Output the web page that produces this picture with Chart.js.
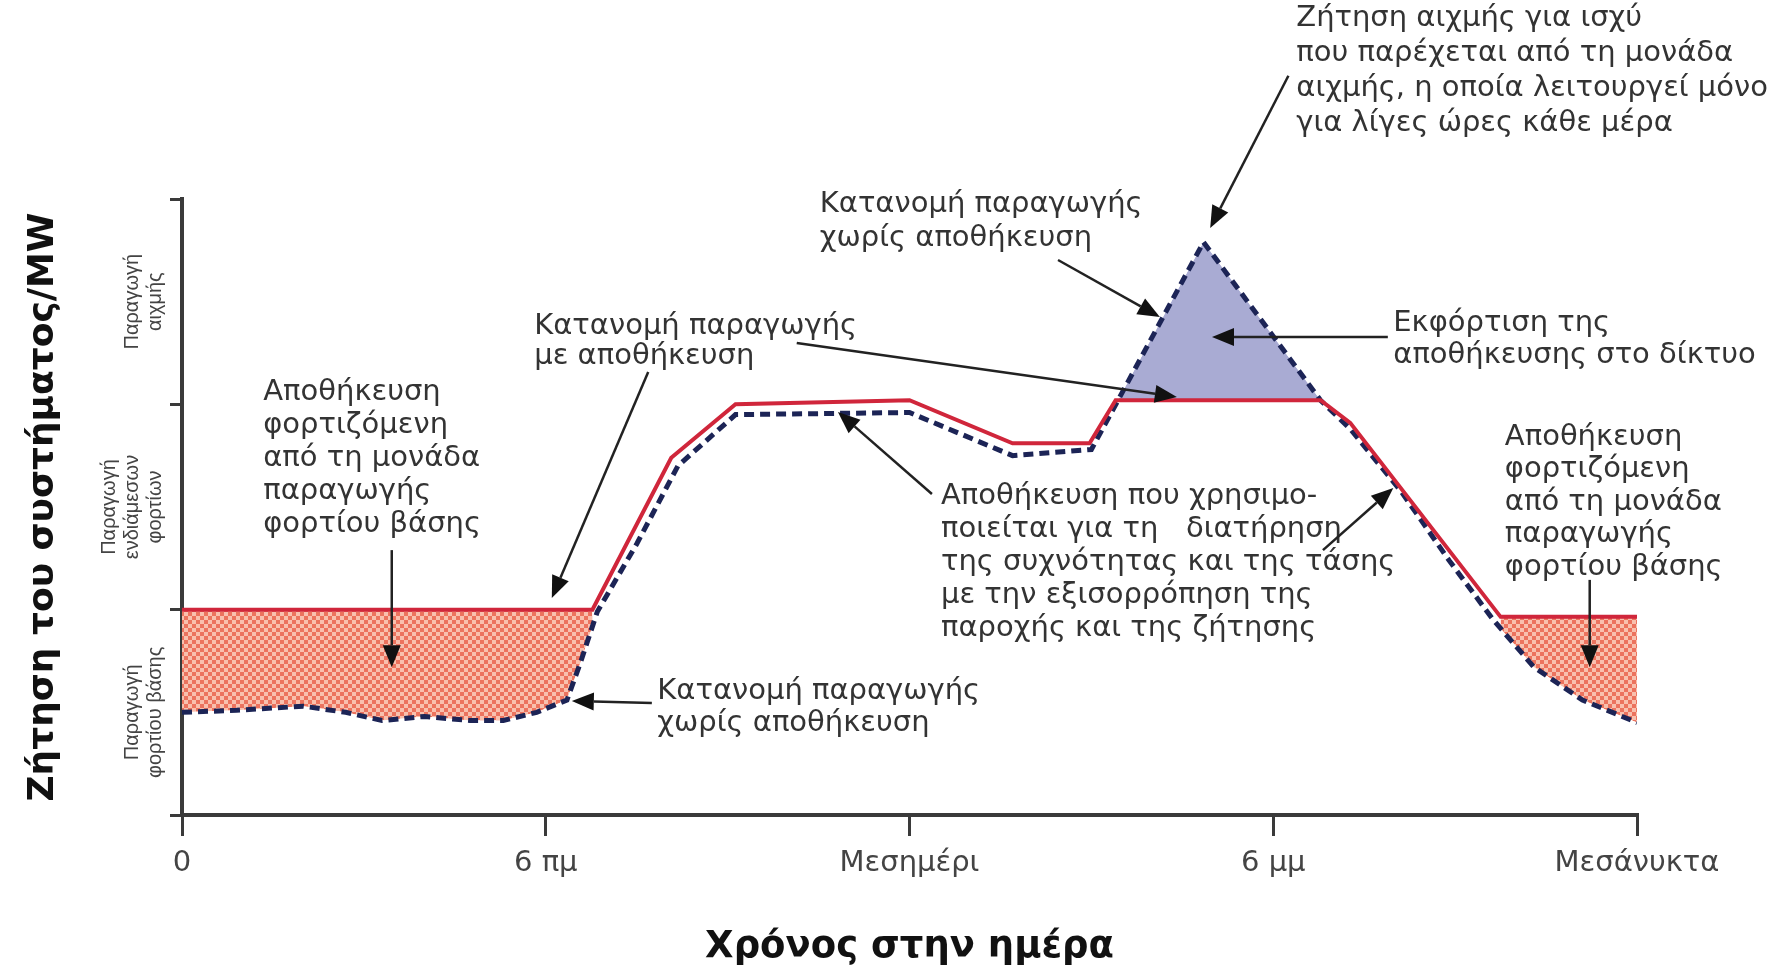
<!DOCTYPE html>
<html>
<head>
<meta charset="utf-8">
<script src="https://cdn.jsdelivr.net/npm/chart.js@4.4.1/dist/chart.umd.min.js"></script>
<style>
  html, body { margin: 0; padding: 0; background: #fff; }
</style>
</head>
<body>
<canvas id="demandChart" width="1783" height="970"></canvas>
<script>
// hour of day (0 = midnight) and system demand, in units of one production band
const hoursWithStorage  = [0, 6.77, 8.07, 9.13, 12.0, 13.7, 14.97, 15.4, 18.78, 19.27, 21.75, 24];
const demandWithStorage = [1.0, 1.0, 1.74, 2.0, 2.02, 1.81, 1.81, 2.02, 2.02, 1.91, 0.965, 0.965];

const hoursNoStorage  = [0, 0.9, 2.0, 2.7, 3.3, 4.0, 4.75, 5.3, 5.85, 6.35, 6.57, 6.85, 7.5, 8.18, 9.13, 12.0, 13.7, 15.0, 16.85, 18.78, 19.27, 20.1, 20.9, 21.63, 22.3, 23.1, 24];
const demandNoStorage = [0.50, 0.51, 0.53, 0.50, 0.46, 0.48, 0.46, 0.46, 0.50, 0.56, 0.74, 0.99, 1.32, 1.70, 1.95, 1.96, 1.75, 1.78, 2.79, 2.02, 1.88, 1.58, 1.24, 0.95, 0.72, 0.56, 0.45];

// hours where storage is charged (base load) / discharged (peak)
const chargeWindows    = [[0, 6.77], [21.75, 24]];
const dischargeWindows = [[15.4, 18.78]];

const xTickLabels = { 0: '0', 6: '6 πμ', 12: 'Μεσημέρι', 18: '6 μμ', 24: 'Μεσάνυκτα' };
const bandLabels = [
    ['Παραγωγή', 'φορτίου βάσης'],
    ['Παραγωγή', 'ενδιάμεσων', 'φορτίων'],
    ['Παραγωγή', 'αιχμής']
];

function toPoints(hours, values) {
    return hours.map((h, i) => ({ x: h, y: values[i] }));
}

function windowed(windows) {
    return hoursWithStorage.map((h, i) => ({
        x: h,
        y: windows.some(([a, b]) => h >= a && h <= b) ? demandWithStorage[i] : null
    }));
}

function makeHatch() {
    const c = document.createElement('canvas');
    c.width = 8; c.height = 8;
    const g = c.getContext('2d');
    g.fillStyle = '#f9c0ae';
    g.fillRect(0, 0, 8, 8);
    g.fillStyle = '#ec735e';
    g.fillRect(0, 0, 4, 4);
    g.fillRect(4, 4, 4, 4);
    return g.createPattern(c, 'repeat');
}

// text blocks and arrows, anchored in data units (hour, demand)
const notes = [
    { h: 18.38, v: 3.877, lh: 35, lines: ['Ζήτηση αιχμής για ισχύ', 'που παρέχεται από τη μονάδα', 'αιχμής, η οποία λειτουργεί μόνο', 'για λίγες ώρες κάθε μέρα'] },
    { h: 10.52, v: 2.971, lh: 34, lines: ['Κατανομή παραγωγής', 'χωρίς αποθήκευση'] },
    { h: 5.81, v: 2.377, lh: 30, lines: ['Κατανομή παραγωγής', 'με αποθήκευση'] },
    { h: 1.34, v: 2.06, lh: 33, lines: ['Αποθήκευση', 'φορτιζόμενη', 'από τη μονάδα', 'παραγωγής', 'φορτίου βάσης'] },
    { h: 7.84, v: 0.604, lh: 32, lines: ['Κατανομή παραγωγής', 'χωρίς αποθήκευση'] },
    { h: 12.52, v: 1.549, lh: 33, lines: ['Αποθήκευση που χρησιμο-', 'ποιείται για τη   διατήρηση', 'της συχνότητας και της τάσης', 'με την εξισορρόπηση της', 'παροχής και της ζήτησης'] },
    { h: 19.98, v: 2.396, lh: 32, lines: ['Εκφόρτιση της', 'αποθήκευσης στο δίκτυο'] },
    { h: 21.82, v: 1.841, lh: 32.5, lines: ['Αποθήκευση', 'φορτιζόμενη', 'από τη μονάδα', 'παραγωγής', 'φορτίου βάσης'] }
];
const arrows = [
    [18.25, 3.60, 16.96, 2.859],
    [14.45, 2.703, 16.13, 2.425],
    [10.14, 2.299, 16.41, 2.036],
    [7.69, 2.157, 6.10, 1.057],
    [3.46, 1.29, 3.46, 0.72],
    [7.75, 0.545, 6.43, 0.555],
    [12.37, 1.563, 10.82, 1.963],
    [18.82, 1.29, 19.98, 1.593],
    [19.89, 2.328, 16.99, 2.328],
    [23.22, 1.145, 23.22, 0.72]
];

const notesPlugin = {
    id: 'notes',
    afterDraw(chart) {
        const { ctx, chartArea, scales: { x, y } } = chart;
        const px = h => x.getPixelForValue(h);
        const py = v => y.getPixelForValue(v);
        ctx.save();

        // rotated band names next to the y axis
        ctx.fillStyle = '#444';
        ctx.font = '20px "Liberation Sans"';
        ctx.textAlign = 'center';
        ctx.textBaseline = 'middle';
        bandLabels.forEach((lines, i) => {
            const cy = py(i + 0.5);
            lines.forEach((t, j) => {
                const cx = chartArea.left - 27 - (lines.length - 1 - j) * 23;
                ctx.save();
                ctx.translate(cx, cy);
                ctx.rotate(-Math.PI / 2);
                ctx.fillText(t, 0, 0);
                ctx.restore();
            });
        });

        // annotation text
        ctx.fillStyle = '#333';
        ctx.font = '29px "DejaVu Sans"';
        ctx.textAlign = 'left';
        notes.forEach(n => {
            n.lines.forEach((t, j) => ctx.fillText(t, px(n.h), py(n.v) + j * n.lh));
        });

        // arrows
        ctx.strokeStyle = '#222';
        ctx.fillStyle = '#111';
        ctx.lineWidth = 2.5;
        arrows.forEach(([h1, v1, h2, v2]) => {
            const x1 = px(h1), y1 = py(v1), x2 = px(h2), y2 = py(v2);
            const a = Math.atan2(y2 - y1, x2 - x1);
            const len = 22, half = 9;
            const bx = x2 - len * Math.cos(a), by = y2 - len * Math.sin(a);
            ctx.beginPath();
            ctx.moveTo(x1, y1);
            ctx.lineTo(bx, by);
            ctx.stroke();
            ctx.beginPath();
            ctx.moveTo(x2, y2);
            ctx.lineTo(bx + half * Math.sin(a), by - half * Math.cos(a));
            ctx.lineTo(bx - half * Math.sin(a), by + half * Math.cos(a));
            ctx.closePath();
            ctx.fill();
        });
        ctx.restore();
    }
};

Chart.defaults.font.family = '"DejaVu Sans"';

const axisColor = '#3a3a3a';

new Chart(document.getElementById('demandChart'), {
    type: 'line',
    data: {
        datasets: [
            {
                label: 'Κατανομή παραγωγής με αποθήκευση',
                data: toPoints(hoursWithStorage, demandWithStorage),
                borderColor: '#d0263b',
                borderWidth: 4,
                pointRadius: 0,
                fill: false
            },
            {
                label: 'Κατανομή παραγωγής χωρίς αποθήκευση',
                data: toPoints(hoursNoStorage, demandNoStorage),
                borderColor: '#1c2456',
                borderWidth: 5,
                borderDash: [10, 6],
                pointRadius: 0,
                fill: false
            },
            {
                label: 'charge',
                data: windowed(chargeWindows),
                borderWidth: 0,
                pointRadius: 0,
                fill: { target: 1, above: makeHatch(), below: 'rgba(0,0,0,0)' }
            },
            {
                label: 'discharge',
                data: windowed(dischargeWindows),
                borderWidth: 0,
                pointRadius: 0,
                fill: { target: 1, above: 'rgba(0,0,0,0)', below: '#a9abd3' }
            }
        ]
    },
    options: {
        responsive: false,
        animation: false,
        layout: { padding: { top: 199, right: 146, left: 0, bottom: 0 } },
        plugins: {
            legend: { display: false },
            tooltip: { enabled: false }
        },
        scales: {
            x: {
                type: 'linear',
                min: 0,
                max: 24,
                afterFit: s => { s.height = 155; },
                ticks: {
                    stepSize: 6,
                    autoSkip: false,
                    maxRotation: 0,
                    padding: 10,
                    color: '#444',
                    font: { size: 29 },
                    callback: v => xTickLabels[v] ?? ''
                },
                grid: { drawOnChartArea: false, color: axisColor, lineWidth: 3, tickLength: 21 },
                border: { color: axisColor, width: 4 },
                title: {
                    display: true,
                    text: 'Χρόνος στην ημέρα',
                    color: '#111',
                    font: { size: 37, weight: 'bold' },
                    padding: { top: 0, bottom: 0 }
                }
            },
            y: {
                min: 0,
                max: 3,
                afterFit: s => { s.width = 182; },
                ticks: { stepSize: 1, callback: () => '' },
                grid: { drawOnChartArea: false, color: axisColor, lineWidth: 3, tickLength: 12 },
                border: { color: axisColor, width: 4 },
                title: {
                    display: true,
                    text: 'Ζήτηση του συστήματος/MW',
                    color: '#111',
                    font: { size: 36, weight: 'bold' },
                    padding: { top: 22, bottom: 0 }
                }
            }
        }
    },
    plugins: [notesPlugin]
});
</script>
</body>
</html>
